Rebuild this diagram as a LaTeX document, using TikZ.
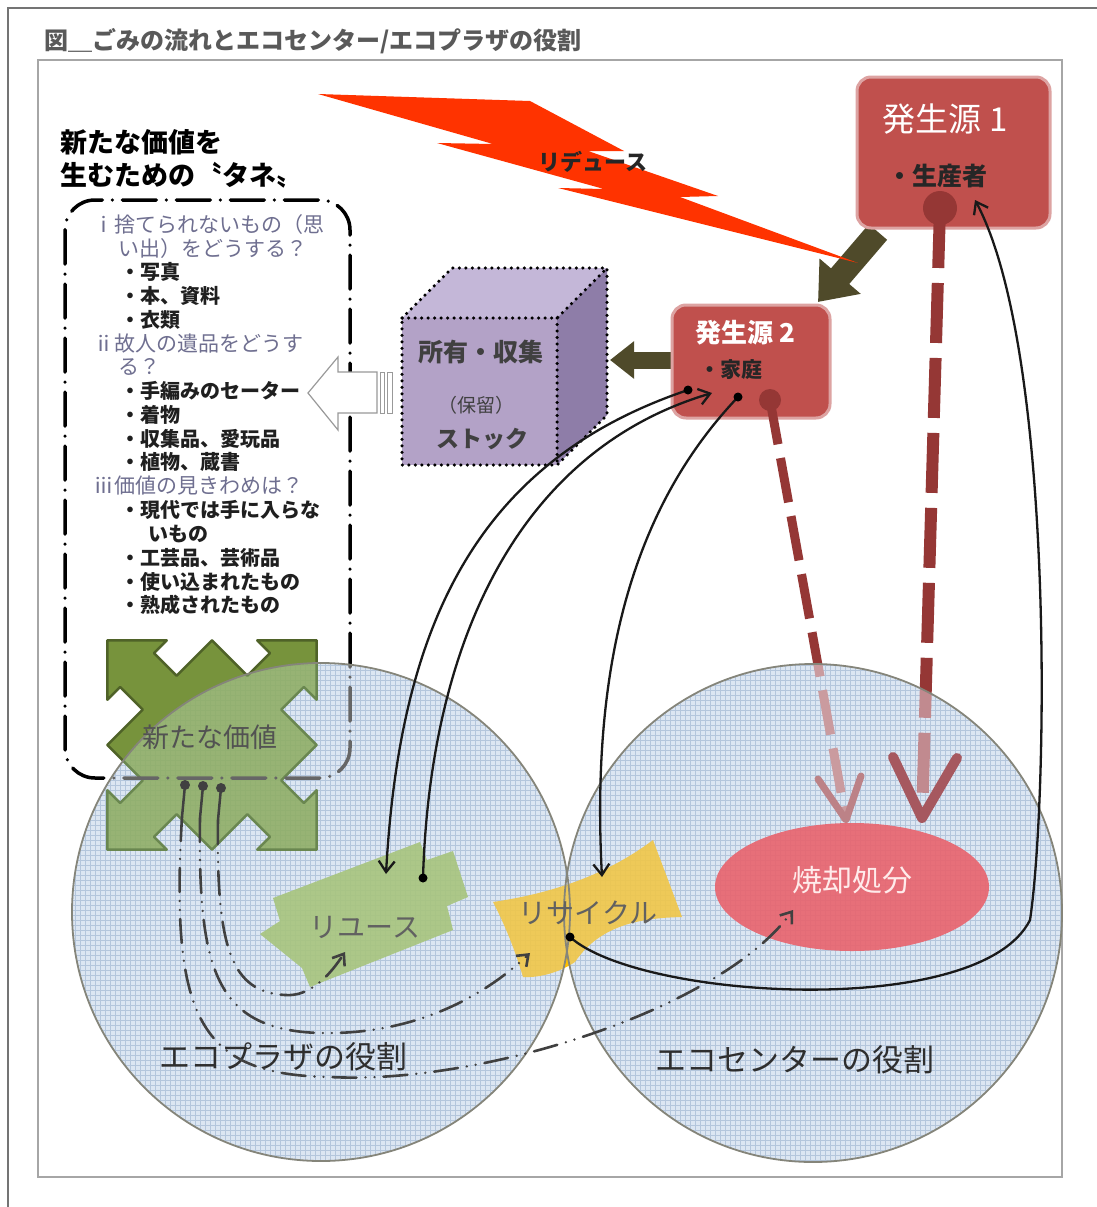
\documentclass[tikz,border=0pt]{standalone}
\usepackage{fontspec}
\newfontfamily\jp{Noto Sans CJK JP}
\usetikzlibrary{arrows.meta}
\newcommand\jpsize[1]{\jp\fontsize{#1}{#1}\selectfont}
\definecolor{boxred}{HTML}{C0504D}
\definecolor{boxring}{HTML}{DDA3A2}
\definecolor{darkred}{HTML}{953735}
\definecolor{mutedred}{HTML}{A6585F}
\definecolor{olivedk}{HTML}{4F4A2A}
\definecolor{bolt}{HTML}{FF3300}
\definecolor{cubefront}{HTML}{B3A2C7}
\definecolor{cubetop}{HTML}{C4B7D8}
\definecolor{cubeside}{HTML}{8E7DA8}
\definecolor{circfill}{HTML}{DCE6F2}
\definecolor{gridcol}{HTML}{B4C6DC}
\definecolor{circline}{HTML}{85857A}
\definecolor{greenfull}{HTML}{77933C}
\definecolor{greenedge}{HTML}{4F6228}
\definecolor{greenmuted}{HTML}{8EAD63}
\definecolor{greenmutededge}{HTML}{6A8750}
\definecolor{reusecol}{HTML}{A7C47D}
\definecolor{recyclefull}{HTML}{FFC000}
\definecolor{recyclecol}{HTML}{F0C648}
\definecolor{burncol}{HTML}{E8656F}
\definecolor{listblue}{HTML}{6F6F90}
\definecolor{titlegray}{HTML}{595959}
\definecolor{textgray}{HTML}{404040}
\definecolor{framegray}{HTML}{A6A6A6}
\begin{document}
\begin{tikzpicture}[x=1pt,y=-1pt,
  every node/.style={inner sep=0pt, outer sep=0pt},
  roundbox/.style={fill=boxred, draw=boxring, line width=3pt, rounded corners=14pt},
  listborder/.style={line width=3.5pt, line cap=round, dash pattern=on 34pt off 10pt on 0pt off 10pt, rounded corners=30pt},
  listitem/.style={anchor=west, font=\bfseries\jpsize{20pt}, text=black!88},
  listq/.style={anchor=west, font=\jpsize{21pt}, text=listblue},
  cubeborder/.style={draw=black, line width=3.5pt, line cap=round, line join=round, dash pattern=on 0pt off 6.5pt},
  bigdash/.style={line width=12pt, dash pattern=on 60pt off 15pt},
  smalldash/.style={line width=9pt, dash pattern=on 45pt off 14pt},
  blackcurve/.style={line width=2.3pt, draw=black!90, -{Straight Barb[length=11pt,width=16pt]}},
  dashdotdot/.style={line width=2.6pt, draw=black!75, line cap=round, dash pattern=on 24pt off 9pt on 0pt off 9pt on 0pt off 9pt, -{Straight Barb[length=10pt,width=15pt]}},
]
\useasboundingbox (0,0) rectangle (1097,1207);
\fill[white] (0,0) rectangle (1097,1207);
% frames and title
\draw[framegray!70!black, line width=1.2pt] (8,1207) -- (8,8) -- (1097,8);
\draw[framegray, line width=1.5pt] (38,60) rectangle (1062,1177);
\node[anchor=west, font=\bfseries\jpsize{24pt}, text=titlegray] (title) at (44,41) {図＿ごみの流れとエコセンター/エコプラザの役割};

% heading of the list
\node[anchor=west, font=\bfseries\jpsize{27pt}] (head1) at (60,142) {新たな価値を};
\node[anchor=west, font=\bfseries\jpsize{27pt}] (head2) at (60,175) {生むための〝タネ〟};

% list box
\draw[listborder] (65,200) rectangle (350,778);
\node[listq] (q1a) at (93,225) {ⅰ捨てられないもの（思};
\node[listq] (q1b) at (118,249) {い出）をどうする？};
\node[listitem] (i1) at (120,272) {・写真};
\node[listitem] (i2) at (120,296) {・本、資料};
\node[listitem] (i3) at (120,320) {・衣類};
\node[listq] (q2a) at (93,344) {ⅱ故人の遺品をどうす};
\node[listq] (q2b) at (118,367) {る？};
\node[listitem] (i4) at (120,391) {・手編みのセーター};
\node[listitem] (i5) at (120,415) {・着物};
\node[listitem] (i6) at (120,439) {・収集品、愛玩品};
\node[listitem] (i7) at (120,462) {・植物、蔵書};
\node[listq] (q3) at (93,486) {ⅲ価値の見きわめは？};
\node[listitem] (i8) at (120,510) {・現代では手に入らな};
\node[listitem] (i8b) at (148,534) {いもの};
\node[listitem] (i9) at (120,558) {・工芸品、芸術品};
\node[listitem] (i10) at (120,582) {・使い込まれたもの};
\node[listitem] (i11) at (120,605) {・熟成されたもの};

% white striped arrow from the stock cube to the list
\filldraw[fill=white, draw=gray!80, line width=1.2pt] (308,393) -- (338,357) -- (338,372) -- (377,372) -- (377,413) -- (338,413) -- (338,430) -- cycle;
\filldraw[fill=white, draw=gray!80, line width=1pt] (380,372) rectangle (384,413);
\filldraw[fill=white, draw=gray!80, line width=1pt] (387,372) rectangle (392,413);

% cube
\fill[cubetop] (402,318) -- (452,268) -- (607,268) -- (557,318) -- cycle;
\fill[cubeside] (557,318) -- (607,268) -- (607,415) -- (557,465) -- cycle;
\fill[cubefront] (402,318) rectangle (557,465);
\draw[cubeborder] (402,318) -- (452,268) -- (607,268) -- (607,415) -- (557,465) -- (402,465) -- cycle;
\draw[cubeborder] (402,318) -- (557,318) -- (607,268);
\draw[cubeborder] (557,318) -- (557,465);
\node[font=\bfseries\jpsize{25pt}, text=textgray] (cube1) at (481,352) {所有・収集};
\node[font=\jpsize{19pt}, text=textgray] (cube2) at (476,405) {（保留）};
\node[font=\bfseries\jpsize{23pt}, text=textgray] (cube3) at (482,439) {ストック};

% olive block arrows
\coordinate (ol1s) at (878,232);
\coordinate (ol1t) at (818,302);
\draw[olivedk, line width=24pt, -{Triangle[length=34pt,width=52pt]}] (ol1s) -- (ol1t);
\coordinate (ol2s) at (675,360);
\coordinate (ol2t) at (610,360);
\draw[olivedk, line width=17pt, -{Triangle[length=24pt,width=36pt]}] (ol2s) -- (ol2t);

% source boxes
\draw[roundbox] (857,77) rectangle (1050,228);
\node[font=\jpsize{33pt}, text=white] (src1) at (945,119) {発生源 1};
\node[font=\bfseries\jpsize{25pt}, text=black!85] (src1b) at (937,176) {・生産者};
\draw[roundbox] (672,305) rectangle (830,418);
\node[font=\bfseries\jpsize{26pt}, text=white] (src2) at (745,333) {発生源 2};
\node[font=\bfseries\jpsize{21pt}, text=black!85] (src2b) at (731,370) {・家庭};

% lightning (reduce)
\fill[bolt] (318,94) -- (530,101) -- (624,151) -- (588,151) -- (718,196) -- (680,197) -- (858,263) -- (558,188) -- (604,189) -- (437,143) -- (493,144) -- cycle;
\node[font=\bfseries\jpsize{22pt}, text=black!85] (reduce) at (593,162) {リデュース};

% red dashed flows (full colour, outside the circles)
\coordinate (c1) at (940,208);
\coordinate (c2) at (770,400);
\coordinate (v1) at (922,818);
\coordinate (v2) at (846,820);
\draw[darkred, bigdash] (c1) -- (v1);
\draw[darkred, smalldash] (c2) -- (v2);
\fill[darkred] (c1) circle[radius=17];
\fill[darkred] (c2) circle[radius=11];

% new-value quad arrow (full colour)
\def\quadpath{(74,-24) -- (106,-24) -- (106,-42) -- (148,0) -- (106,42) -- (106,24) -- (74,24) -- (74,74) -- (24,74) -- (24,106) -- (42,106) -- (0,148) -- (-42,106) -- (-24,106) -- (-24,74) -- (-74,74) -- (-74,24) -- (-106,24) -- (-106,42) -- (-148,0) -- (-106,-42) -- (-106,-24) -- (-74,-24) -- (-74,-74) -- (-24,-74) -- (-24,-106) -- (-42,-106) -- (0,-148) -- (42,-106) -- (24,-106) -- (24,-74) -- (74,-74) -- cycle}
\begin{scope}[shift={(212,745)}, rotate=45]
\filldraw[fill=greenfull, draw=greenedge, line width=2.5pt, line join=round] \quadpath;
\end{scope}

% recycle (full colour, shows in the gap between the circles)
\def\recyclepath{(493,902) .. controls (540,895) and (600,880) .. (653,840) -- (682,917) .. controls (640,918) and (600,925) .. (575,962) .. controls (560,972) and (540,978) .. (523,977) .. controls (515,950) and (505,925) .. (493,902) -- cycle}
\fill[recyclefull] \recyclepath;

% circles with grid, and muted objects inside them
\begin{scope}
\clip (321,912) circle[radius=249] (813,913) circle[radius=249];
\fill[circfill] (40,640) rectangle (1090,1180);
\draw[gridcol, line width=0.5pt, step=5pt] (40,640) grid (1090,1180);
\begin{scope}[shift={(212,745)}, rotate=45]
\filldraw[fill=greenmuted, draw=greenmutededge, line width=2.5pt, line join=round, fill opacity=0.88] \quadpath;
\end{scope}
\draw[listborder, draw=black!60] (65,200) rectangle (350,778);
\draw[mutedred!70!white, bigdash] (c1) -- (v1);
\draw[mutedred!60!white, smalldash] (c2) -- (v2);
\draw[mutedred, line width=10pt, line cap=round, line join=round] (893,757) -- (v1) -- (957,758);
\draw[mutedred!75!white, line width=7pt, line cap=round, line join=round] (818,779) -- (v2) -- (861,776);
\fill[reusecol, fill opacity=0.9] (273,898) -- (420,842) -- (427,860) -- (453,851) -- (468,897) -- (447,906) -- (453,930) -- (310,987) -- (302,968) -- (260,934) -- (280,921) -- cycle;
\fill[recyclecol, fill opacity=0.9] \recyclepath;
\fill[burncol, fill opacity=0.92] (852,887) ellipse[x radius=137, y radius=64];
\end{scope}
\draw[circline, line width=1.8pt] (321,912) circle[radius=249];
\draw[circline, line width=1.8pt] (813,913) circle[radius=249];

% labels inside circles
\node[font=\jpsize{27pt}, text=black!68] (newval) at (210,737) {新たな価値};
\node[font=\jpsize{28pt}, text=black!62] (reuse) at (365,927) {リユース};
\node[font=\jpsize{28pt}, text=black!62] (recycle) at (588,913) {リサイクル};
\node[font=\jpsize{30pt}, text=white!92!red] (burn) at (852,880) {焼却処分};
\node[font=\jpsize{31pt}, text=black!82] (plaza) at (283,1057) {エコプラザの役割};
\node[font=\jpsize{31pt}, text=black!82] (center) at (795,1060) {エコセンターの役割};

% pins
\coordinate (p1) at (185,785);
\coordinate (p2) at (203,786);
\coordinate (p3) at (221,788);
\coordinate (p1e) at (182,817);
\coordinate (p2e) at (200,818);
\coordinate (p3e) at (218,820);
\foreach \a/\b in {p1/p1e,p2/p2e,p3/p3e}{
  \draw[black!75, line width=2.5pt] (\a) -- (\b);
  \fill[black!75] (\a) circle[radius=5];
}

% dash-dot-dot flows from the pins
\coordinate (mid1) at (330,1077);
\coordinate (end1) at (793,910);
\coordinate (mid2) at (320,1033);
\coordinate (end2) at (530,953);
\coordinate (mid3) at (285,995);
\coordinate (end3) at (345,952);
\draw[dashdotdot] (p1e) .. controls (170,1020) and (200,1075) .. (mid1) .. controls (480,1085) and (720,1010) .. (end1);
\draw[dashdotdot] (p2e) .. controls (198,970) and (215,1030) .. (mid2) .. controls (410,1035) and (480,1000) .. (end2);
\draw[dashdotdot] (p3e) .. controls (216,950) and (232,992) .. (mid3) .. controls (310,997) and (330,975) .. (end3);

% black flows between household / producer and the eco facilities
\coordinate (da) at (688,390);
\coordinate (db) at (423,878);
\coordinate (dc) at (738,397);
\coordinate (dd) at (570,937);
\coordinate (ta) at (386,874);
\coordinate (tb) at (712,393);
\coordinate (tc) at (602,877);
\coordinate (td) at (975,200);
\coordinate (dj) at (1030,920);
\draw[blackcurve] (da) .. controls (480,460) and (400,620) .. (ta);
\draw[blackcurve] (db) .. controls (430,640) and (520,450) .. (tb);
\draw[blackcurve] (dc) .. controls (640,500) and (590,650) .. (tc);
\draw[blackcurve] (dd) .. controls (640,1000) and (980,1020) .. (dj) .. controls (1048,800) and (1055,350) .. (td);
\foreach \p in {da,db,dc,dd}{\fill[black] (\p) circle[radius=4.5];}
\end{tikzpicture}
\end{document}
